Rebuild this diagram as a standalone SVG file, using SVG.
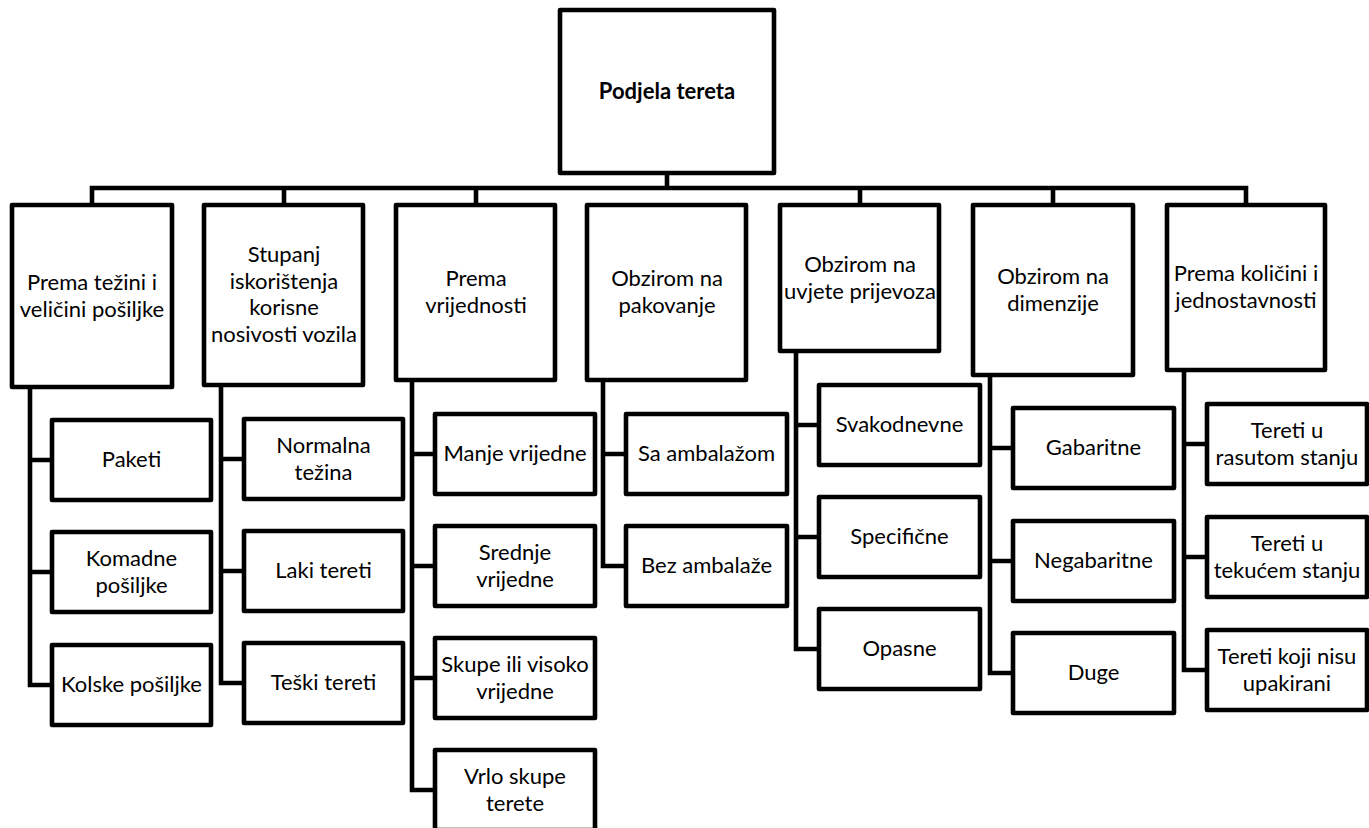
<svg xmlns="http://www.w3.org/2000/svg" width="1369" height="828" viewBox="0 0 1369 828">
<style>
.box{fill:#fff;stroke:#000;stroke-width:4.6;stroke-linejoin:round}
.ln{fill:none;stroke:#000;stroke-width:4.6;stroke-linejoin:miter}
text{font-family:Lato,"Noto Sans","Liberation Sans",sans-serif;font-size:22px;fill:#000;text-anchor:middle}
.b{font-weight:bold}
</style>
<rect width="1369" height="828" fill="#fff"/>
<g id="connectors">
<path class="ln" d="M667,173V188M92,205V188H1246V205M284,188V205M476,188V205M860,188V205M1053,188V205"/>
<path class="ln" d="M30,387V685H52M30,460H52M30,572H52"/>
<path class="ln" d="M221,385V683H244M221,459H244M221,571H244"/>
<path class="ln" d="M412,380V790H435M412,454H435M412,566H435M412,678H435"/>
<path class="ln" d="M603,380V566H626M603,454H626"/>
<path class="ln" d="M796,351V649H819M796,425H819M796,537H819"/>
<path class="ln" d="M990,375V673H1013M990,448H1013M990,561H1013"/>
<path class="ln" d="M1184,370V670H1207M1184,444H1207M1184,557H1207"/>
</g>
<g id="root"><rect class="box" x="560" y="10" width="214" height="163"/><text class="b" x="667" y="99">Podjela tereta</text></g>
<g id="n1"><rect class="box" x="12" y="205" width="160" height="182"/><text x="92" y="289.5">Prema težini i</text><text x="92" y="316.5">veličini pošiljke</text></g>
<g id="n2"><rect class="box" x="204" y="205" width="159" height="180"/><text x="284" y="262">Stupanj</text><text x="284" y="288.5">iskorištenja</text><text x="284" y="315">korisne</text><text x="284" y="341.5">nosivosti vozila</text></g>
<g id="n3"><rect class="box" x="396" y="205" width="159" height="175"/><text x="476" y="286">Prema</text><text x="476" y="313">vrijednosti</text></g>
<g id="n4"><rect class="box" x="587" y="205" width="159" height="175"/><text x="667" y="286">Obzirom na</text><text x="667" y="313">pakovanje</text></g>
<g id="n5"><rect class="box" x="780" y="205" width="159" height="146"/><text x="860" y="271.5">Obzirom na</text><text x="860" y="298.5">uvjete prijevoza</text></g>
<g id="n6"><rect class="box" x="973" y="205" width="160" height="170"/><text x="1053" y="283.5">Obzirom na</text><text x="1053" y="310.5">dimenzije</text></g>
<g id="n7"><rect class="box" x="1167" y="205" width="158" height="165"/><text x="1246" y="281">Prema količini i</text><text x="1246" y="308">jednostavnosti</text></g>

<g id="n1a"><rect class="box" x="52" y="420" width="159" height="80"/><text x="131.5" y="467">Paketi</text></g>
<g id="n1b"><rect class="box" x="52" y="532" width="159" height="80"/><text x="131.5" y="565.5">Komadne</text><text x="131.5" y="592.5">pošiljke</text></g>
<g id="n1c"><rect class="box" x="52" y="645" width="159" height="80"/><text x="131.5" y="692">Kolske pošiljke</text></g>

<g id="n2a"><rect class="box" x="244" y="419" width="159" height="80"/><text x="323.5" y="452.5">Normalna</text><text x="323.5" y="479.5">težina</text></g>
<g id="n2b"><rect class="box" x="244" y="531" width="159" height="80"/><text x="323.5" y="578">Laki tereti</text></g>
<g id="n2c"><rect class="box" x="244" y="643" width="159" height="80"/><text x="323.5" y="690">Teški tereti</text></g>

<g id="n3a"><rect class="box" x="435" y="414" width="160" height="80"/><text x="515" y="461">Manje vrijedne</text></g>
<g id="n3b"><rect class="box" x="435" y="526" width="160" height="80"/><text x="515" y="559.5">Srednje</text><text x="515" y="586.5">vrijedne</text></g>
<g id="n3c"><rect class="box" x="435" y="638" width="160" height="80"/><text x="515" y="671.5">Skupe ili visoko</text><text x="515" y="698.5">vrijedne</text></g>
<g id="n3d"><rect class="box" x="435" y="750" width="160" height="80"/><text x="515" y="783.5">Vrlo skupe</text><text x="515" y="810.5">terete</text></g>

<g id="n4a"><rect class="box" x="626" y="414" width="161" height="80"/><text x="706.5" y="461">Sa ambalažom</text></g>
<g id="n4b"><rect class="box" x="626" y="526" width="161" height="80"/><text x="706.5" y="573">Bez ambalaže</text></g>

<g id="n5a"><rect class="box" x="819" y="385" width="161" height="80"/><text x="899.5" y="432">Svakodnevne</text></g>
<g id="n5b"><rect class="box" x="819" y="497" width="161" height="80"/><text x="899.5" y="544">Specifične</text></g>
<g id="n5c"><rect class="box" x="819" y="609" width="161" height="80"/><text x="899.5" y="656">Opasne</text></g>

<g id="n6a"><rect class="box" x="1013" y="408" width="161" height="80"/><text x="1093.5" y="455">Gabaritne</text></g>
<g id="n6b"><rect class="box" x="1013" y="521" width="161" height="80"/><text x="1093.5" y="568">Negabaritne</text></g>
<g id="n6c"><rect class="box" x="1013" y="633" width="161" height="80"/><text x="1093.5" y="680">Duge</text></g>

<g id="n7a"><rect class="box" x="1207" y="404" width="160" height="80"/><text x="1287" y="437.5">Tereti u</text><text x="1287" y="464.5">rasutom stanju</text></g>
<g id="n7b"><rect class="box" x="1207" y="517" width="160" height="80"/><text x="1287" y="550.5">Tereti u</text><text x="1287" y="577.5">tekućem stanju</text></g>
<g id="n7c"><rect class="box" x="1207" y="630" width="160" height="80"/><text x="1287" y="663.5">Tereti koji nisu</text><text x="1287" y="690.5">upakirani</text></g>
</svg>
